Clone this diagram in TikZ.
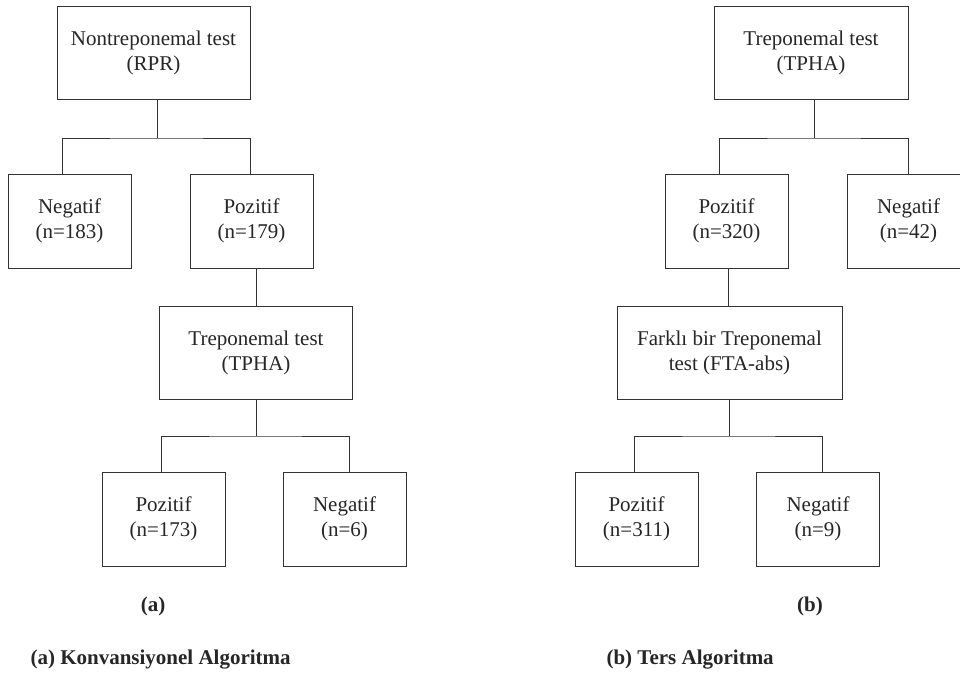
\documentclass[tikz,border=0pt]{standalone}
\usepackage{fontspec}
\setmainfont{Liberation Serif}
\begin{document}
\begin{tikzpicture}[
    x=1pt, y=-1pt,
    every node/.style={font=\fontsize{21}{25}\selectfont, text=black!85},
    block/.style={rectangle, draw=black!80, line width=0.8pt, align=center, inner sep=0pt, minimum width=193pt, minimum height=93pt},
    leaf/.style={block, minimum width=123pt, minimum height=94pt},
    tag/.style={font=\fontsize{21}{25}\selectfont\bfseries},
    link/.style={draw=black!80, line width=0.8pt}
]
    \useasboundingbox (0,0) rectangle (960,680);
    \fill[white] (0,0) rectangle (960,680);
    \clip (0,0) rectangle (960,680);

    \node[block] (rpr) at (153.5,52.5) {Nontreponemal test\\(RPR)};
    \node[leaf] (negA) at (69.5,221) {Negatif\\(n=183)};
    \node[leaf] (pozA) at (251.5,221) {Pozitif\\(n=179)};
    \node[block] (tphaA) at (256,352.5) {Treponemal test\\(TPHA)};
    \node[leaf] (pozB) at (163.5,519) {Pozitif\\(n=173)};
    \node[leaf] (negB) at (344.5,519) {Negatif\\(n=6)};
    \node[tag] (capA) at (153,606) {(a)};
    \node[tag, anchor=west] (titleA) at (27,660) {(a) Konvansiyonel Algoritma};

    \node[block, minimum width=194pt] (tphaR) at (811,52.5) {Treponemal test\\(TPHA)};
    \node[leaf] (pozR) at (726.5,221) {Pozitif\\(n=320)};
    \node[leaf] (negR) at (908.5,221) {Negatif\\(n=42)};
    \node[block, minimum width=225pt] (fta) at (729.5,352.5) {Farklı bir Treponemal\\test (FTA-abs)};
    \node[leaf] (pozS) at (636.5,519) {Pozitif\\(n=311)};
    \node[leaf] (negS) at (818,519) {Negatif\\(n=9)};
    \node[tag] (capB) at (810,606) {(b)};
    \node[tag, anchor=west] (titleB) at (603,660) {(b) Ters Algoritma};

    \coordinate (barA) at (157,138);
    \coordinate (barB) at (256,436);
    \coordinate (barR) at (814,138);
    \coordinate (barS) at (729,436);

    \draw[link] ([xshift=3.5]rpr.south) -- (barA);
    \draw[link] ([xshift=-7.5]negA.north) |- (barA) -| ([xshift=-1.5]pozA.north);
    \draw[link] ([xshift=4.5]pozA.south) -- (tphaA.north);
    \draw[link] (tphaA.south) -- (barB);
    \draw[link] ([xshift=-2.5]pozB.north) |- (barB) -| ([xshift=4.5]negB.north);

    \draw[link] ([xshift=3]tphaR.south) -- (barR);
    \draw[link] ([xshift=-7.5]pozR.north) |- (barR) -| ([xshift=-0.5]negR.north);
    \draw[link] ([xshift=1.5]pozR.south) -- ([xshift=-1.5]fta.north);
    \draw[link] ([xshift=-0.5]fta.south) -- (barS);
    \draw[link] ([xshift=-2.5]pozS.north) |- (barS) -| ([xshift=4]negS.north);
\end{tikzpicture}
\end{document}
